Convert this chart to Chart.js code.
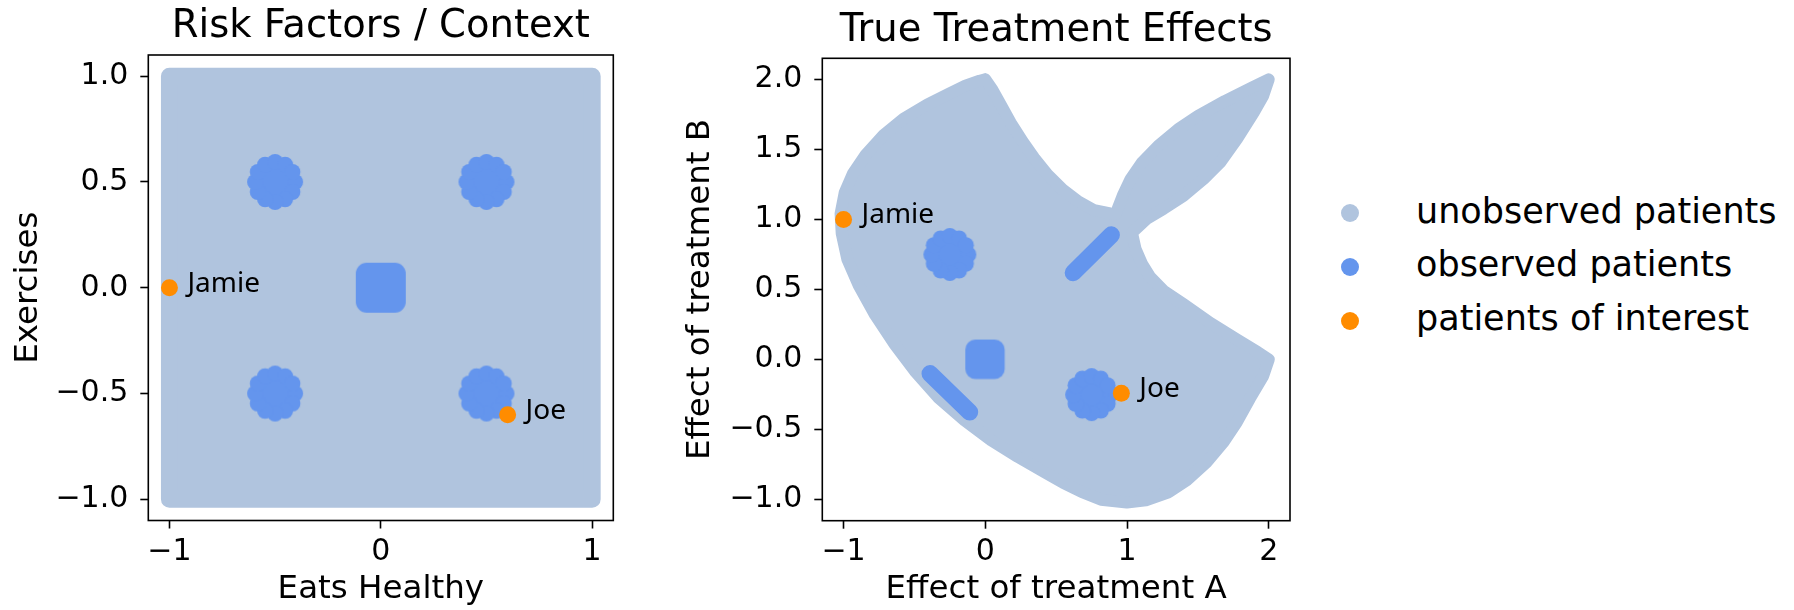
<!DOCTYPE html>
<html>
<head>
<meta charset="utf-8">
<script src="https://cdn.jsdelivr.net/npm/chart.js@4.4.1/dist/chart.umd.min.js"></script>
<style>
  body { margin: 0; background: #fff; width: 1794px; height: 610px; position: relative; overflow: hidden; font-family: 'DejaVu Sans', sans-serif; }
  canvas { position: absolute; top: 0; }
  #leftChart { left: 0; }
  #rightChart { left: 672px; }
  .dot { position: absolute; width: 18px; height: 18px; border-radius: 50%; }
  .lbl { position: absolute; left: 1416px; font-size: 35px; line-height: 40px; white-space: nowrap; color: #000; }
</style>
</head>
<body>
<canvas id="leftChart" width="660" height="610"></canvas>
<canvas id="rightChart" width="660" height="610"></canvas>
<div id="legend"></div>
<script>
// Kelompok pasien (legend)
const groupNames = ['unobserved patients', 'observed patients', 'patients of interest'];
const groupColors = ['#B0C4DE', '#6495ED', '#FF8C00'];

// Pasien yang diperhatikan
const interestNames = ['Jamie', 'Joe'];
const leftInterestX = [-1, 0.6];
const leftInterestY = [0, -0.6];
const rightInterestX = [-1, 0.96];
const rightInterestY = [1, -0.24];

// Grafik kiri: wilayah semua pasien + kelompok yang diamati
const leftRegionX = [-1, 1, 1, -1, -1];
const leftRegionY = [-1, -1, 1, 1, -1];
const leftRoundX = [-0.5, 0.5, -0.5, 0.5];
const leftRoundY = [0.5, 0.5, -0.5, -0.5];
const leftSquareX = [0];
const leftSquareY = [0];

// Grafik kanan: batas wilayah efek perlakuan
const rightRegionX = [0, 0.05, 0.109, 0.18, 0.262, 0.345, 0.439, 0.546, 0.657, 0.768,
  0.881, 0.92, 0.97, 1.025, 1.105, 1.22, 1.36, 1.5, 1.69, 1.88,
  2.0, 1.96, 1.895, 1.777, 1.659, 1.541, 1.4, 1.258, 1.139, 1.035,
  1.06, 1.106, 1.165, 1.26, 1.4, 1.59, 1.78, 1.92, 2.0, 1.961,
  1.866, 1.774, 1.682, 1.565, 1.427, 1.293, 1.133, 0.999, 0.817, 0.68,
  0.55, 0.416, 0.229, 0.04, -0.146, -0.335, -0.498, -0.638, -0.777, -0.893,
  -0.973, -1.013, -1.021, -0.992, -0.934, -0.842, -0.716, -0.576, -0.41, -0.255,
  -0.14, -0.04, 0];
const rightRegionY = [2.0, 1.926, 1.819, 1.689, 1.558, 1.439, 1.321, 1.214, 1.128, 1.066,
  1.043, 1.04, 1.17, 1.288, 1.405, 1.525, 1.643, 1.738, 1.845, 1.94,
  2.0, 1.88, 1.764, 1.575, 1.408, 1.289, 1.17, 1.076, 1.004, 0.905,
  0.79, 0.683, 0.587, 0.49, 0.395, 0.26, 0.14, 0.055, 0.0, -0.117,
  -0.28, -0.448, -0.587, -0.729, -0.857, -0.947, -1.004, -1.021, -1.0, -0.945,
  -0.88, -0.802, -0.694, -0.575, -0.435, -0.268, -0.081, 0.107, 0.318, 0.53,
  0.715, 0.9, 1.042, 1.191, 1.327, 1.464, 1.604, 1.72, 1.82, 1.898,
  1.955, 1.99, 2.0];
const rightRoundX = [-0.25, 0.75];
const rightRoundY = [0.75, -0.25];
const rightSquareX = [0];
const rightSquareY = [0];
const rightStripAX = [0.62, 0.89];
const rightStripAY = [0.62, 0.89];
const rightStripBX = [-0.39, -0.11];
const rightStripBY = [-0.1, -0.375];

// Tick
const leftXTicks = [-1, 0, 1];
const leftXTickLabels = ['\u22121', '0', '1'];
const leftYTicks = [-1, -0.5, 0, 0.5, 1];
const leftYTickLabels = ['\u22121.0', '\u22120.5', '0.0', '0.5', '1.0'];
const rightXTicks = [-1, 0, 1, 2];
const rightXTickLabels = ['\u22121', '0', '1', '2'];
const rightYTicks = [-1, -0.5, 0, 0.5, 1, 1.5, 2];
const rightYTickLabels = ['\u22121.0', '\u22120.5', '0.0', '0.5', '1.0', '1.5', '2.0'];

const toPoints = (xs, ys) => xs.map((x, i) => ({ x, y: ys[i] }));

// Marker bunga untuk kelompok pasien yang diamati
function flowerMarker(ring, bump, color) {
  const size = Math.ceil(2 * (ring + bump)) + 2;
  const c = document.createElement('canvas');
  c.width = c.height = size;
  const g = c.getContext('2d');
  const m = size / 2;
  g.fillStyle = color;
  g.beginPath(); g.arc(m, m, ring + 1, 0, Math.PI * 2); g.fill();
  for (let k = 0; k < 12; k++) {
    const a = k * Math.PI / 6;
    g.beginPath(); g.arc(m + ring * Math.cos(a), m + ring * Math.sin(a), bump, 0, Math.PI * 2); g.fill();
  }
  return c;
}

function squareMarker(half, corner, color) {
  const size = Math.ceil(2 * half) + 2;
  const c = document.createElement('canvas');
  c.width = c.height = size;
  const g = c.getContext('2d');
  const a = 1, b = 1 + 2 * half;
  g.fillStyle = color;
  g.beginPath();
  g.moveTo(a + corner, a);
  g.arcTo(b, a, b, b, corner);
  g.arcTo(b, b, a, b, corner);
  g.arcTo(a, b, a, a, corner);
  g.arcTo(a, a, b, a, corner);
  g.closePath();
  g.fill();
  return c;
}

// Bingkai kotak sumbu
const frame = {
  id: 'frame',
  afterDraw(chart) {
    const { ctx, chartArea: a } = chart;
    ctx.save();
    ctx.strokeStyle = '#000';
    ctx.lineWidth = 1.6;
    ctx.strokeRect(a.left, a.top, a.right - a.left, a.bottom - a.top);
    ctx.restore();
  }
};

// Label nama pasien di samping titik
function nameLabels(xs, ys) {
  return {
    id: 'nameLabels',
    afterDatasetsDraw(chart) {
      const { ctx, scales } = chart;
      ctx.save();
      ctx.font = '28px "Noto Sans"';
      ctx.fillStyle = '#000';
      ctx.textBaseline = 'alphabetic';
      interestNames.forEach((name, i) => {
        ctx.fillText(name, scales.x.getPixelForValue(xs[i]) + 18, scales.y.getPixelForValue(ys[i]) + 4);
      });
      ctx.restore();
    }
  };
}

function axis(min, max, ticks, labels, text, isX, size) {
  return {
    type: 'linear',
    min, max,
    afterBuildTicks: (s) => { s.ticks = ticks.map(v => ({ value: v })); },
    afterFit: (s) => { if (isX) s.height = size; else s.width = size; },
    ticks: {
      autoSkip: false, maxRotation: 0, minRotation: 0,
      padding: isX ? 6 : 12, color: '#000',
      font: { family: 'DejaVu Sans', size: 30 },
      callback: (v, i) => labels[i]
    },
    grid: { drawOnChartArea: false, drawTicks: true, tickLength: 8, tickWidth: 1.6, tickColor: '#000' },
    border: { display: false },
    title: {
      display: true, text, color: '#000',
      font: { family: 'DejaVu Sans', size: 32.5 },
      padding: isX ? { top: 0, bottom: 1 } : { top: 9, bottom: 0 }
    }
  };
}

function regionSet(xs, ys, width) {
  return {
    label: groupNames[0], data: toPoints(xs, ys), showLine: true, fill: 'shape',
    backgroundColor: groupColors[0], borderColor: groupColors[0], borderWidth: width,
    borderJoinStyle: 'round', borderCapStyle: 'round', tension: 0, pointRadius: 0
  };
}

function stripSet(xs, ys) {
  return {
    label: groupNames[1], data: toPoints(xs, ys), showLine: true,
    borderColor: groupColors[1], borderWidth: 17, borderCapStyle: 'round', pointRadius: 0
  };
}

function baseOptions(title, pad, titleGap, xAxis, yAxis) {
  return {
    responsive: false, devicePixelRatio: 1, animation: false, events: [],
    layout: { padding: pad },
    scales: { x: xAxis, y: yAxis },
    plugins: {
      legend: { display: false },
      tooltip: { enabled: false },
      title: {
        display: true, text: title, color: '#000', fullSize: false,
        font: { family: 'DejaVu Sans', size: 38.5, weight: 'normal' },
        padding: { top: 0, bottom: titleGap }
      }
    }
  };
}

// Grafik kiri: Risk Factors / Context
new Chart(document.getElementById('leftChart').getContext('2d'), {
  type: 'scatter',
  data: {
    datasets: [
      { label: groupNames[2], data: toPoints(leftInterestX, leftInterestY), backgroundColor: groupColors[2], pointRadius: 8.5, pointBorderWidth: 0 },
      { label: groupNames[1], data: toPoints(leftRoundX, leftRoundY), pointStyle: flowerMarker(20, 8, groupColors[1]), pointRadius: 28 },
      { label: groupNames[1], data: toPoints(leftSquareX, leftSquareY), pointStyle: squareMarker(25, 11, groupColors[1]), pointRadius: 25 },
      regionSet(leftRegionX, leftRegionY, 17)
    ]
  },
  options: baseOptions('Risk Factors / Context', { left: 0, top: 4.3, right: 46.7, bottom: 0 }, 4.5,
    axis(-1.1, 1.1, leftXTicks, leftXTickLabels, 'Eats Healthy', true, 89.5),
    axis(-1.1, 1.1, leftYTicks, leftYTickLabels, 'Exercises', false, 148.3)),
  plugins: [frame, nameLabels(leftInterestX, leftInterestY)]
});

// Grafik kanan: True Treatment Effects
new Chart(document.getElementById('rightChart').getContext('2d'), {
  type: 'scatter',
  data: {
    datasets: [
      { label: groupNames[2], data: toPoints(rightInterestX, rightInterestY), backgroundColor: groupColors[2], pointRadius: 8.5, pointBorderWidth: 0 },
      { label: groupNames[1], data: toPoints(rightRoundX, rightRoundY), pointStyle: flowerMarker(18.5, 8, groupColors[1]), pointRadius: 27 },
      { label: groupNames[1], data: toPoints(rightSquareX, rightSquareY), pointStyle: squareMarker(19.7, 10, groupColors[1]), pointRadius: 20 },
      stripSet(rightStripAX, rightStripAY),
      stripSet(rightStripBX, rightStripBY),
      regionSet(rightRegionX, rightRegionY, 12)
    ]
  },
  options: baseOptions('True Treatment Effects', { left: 0, top: 8.3, right: 42, bottom: 0 }, 3.8,
    axis(-1.15, 2.15, rightXTicks, rightXTickLabels, 'Effect of treatment A', true, 89.3),
    axis(-1.15, 2.15, rightYTicks, rightYTickLabels, 'Effect of treatment B', false, 150.3)),
  plugins: [frame, nameLabels(rightInterestX, rightInterestY)]
});

// Legend di sebelah kanan
const legendBox = document.getElementById('legend');
groupNames.forEach((name, i) => {
  const dot = document.createElement('div');
  dot.className = 'dot';
  dot.style.background = groupColors[i];
  dot.style.left = (1350 - 9) + 'px';
  dot.style.top = (213.3 + i * 53.7 - 9) + 'px';
  const txt = document.createElement('div');
  txt.className = 'lbl';
  txt.style.top = (190.6 + i * 53.7) + 'px';
  txt.textContent = name;
  legendBox.appendChild(dot);
  legendBox.appendChild(txt);
});
</script>
</body>
</html>
